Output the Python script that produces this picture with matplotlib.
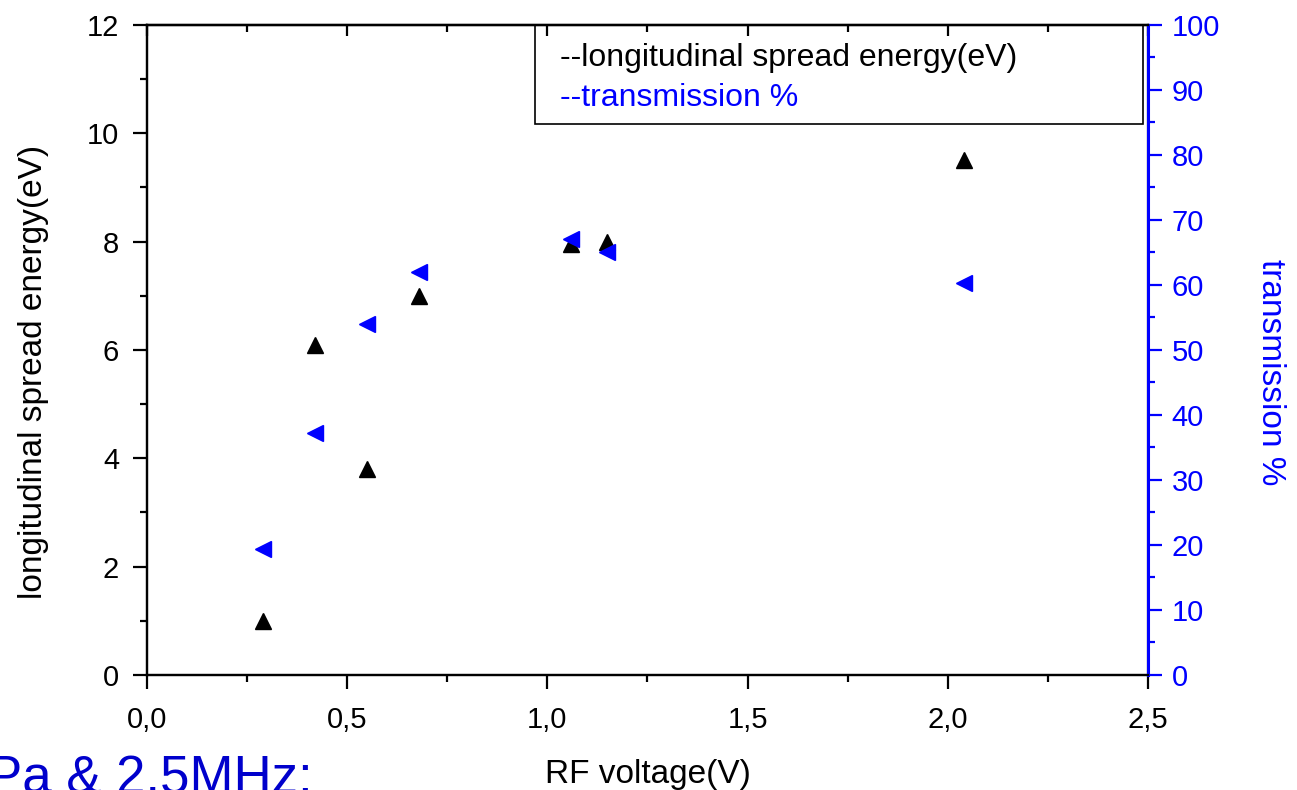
import matplotlib.pyplot as plt
from matplotlib.patches import Rectangle
from matplotlib.ticker import MultipleLocator, FuncFormatter

plt.rcParams['font.family'] = ['Liberation Sans', 'DejaVu Sans']

# RF voltage (V)
rf_voltage = [0.29, 0.42, 0.55, 0.68, 1.06, 1.15, 2.04]
# longitudinal spread energy (eV)
spread_energy = [1.0, 6.1, 3.8, 7.0, 7.95, 8.0, 9.5]
# transmission (%)
transmission = [19.4, 37.2, 54.0, 62.0, 67.0, 65.0, 60.3]

fig = plt.figure(figsize=(12.97, 7.90), dpi=100)
ax1 = fig.add_axes([0.1133, 0.1456, 0.7718, 0.8228])
ax2 = ax1.twinx()

ax1.plot(rf_voltage, spread_energy, linestyle='none', marker='^', color='black',
         markersize=12, clip_on=False)
ax2.plot(rf_voltage, transmission, linestyle='none', marker='<', color='blue',
         markersize=12, clip_on=False)

comma = FuncFormatter(lambda v, p: ('%.1f' % v).replace('.', ','))

ax1.set_xlim(0, 2.5)
ax1.set_ylim(0, 12)
ax2.set_ylim(0, 100)

ax1.xaxis.set_major_locator(MultipleLocator(0.5))
ax1.xaxis.set_minor_locator(MultipleLocator(0.25))
ax1.xaxis.set_major_formatter(comma)
ax1.yaxis.set_major_locator(MultipleLocator(2))
ax1.yaxis.set_minor_locator(MultipleLocator(1))
ax2.yaxis.set_major_locator(MultipleLocator(10))
ax2.yaxis.set_minor_locator(MultipleLocator(5))

for sp in ax1.spines.values():
    sp.set_linewidth(1.6)
for sp in ax2.spines.values():
    sp.set_linewidth(1.6)
ax2.spines['right'].set_color('blue')
ax2.spines['right'].set_linewidth(2.2)

ax1.tick_params(axis='y', which='major', direction='out', length=10, width=1.6,
                labelsize=21, pad=10)
ax1.tick_params(axis='x', which='major', direction='out', length=10, width=1.6,
                labelsize=21, pad=12)
ax1.tick_params(which='minor', direction='out', length=5, width=1.6)
ax2.tick_params(which='major', direction='out', length=10, width=1.6,
                labelsize=21, colors='blue', pad=7)
ax2.tick_params(which='minor', direction='out', length=5, width=1.6, colors='blue')

top = ax1.secondary_xaxis('top')
top.xaxis.set_major_locator(MultipleLocator(0.5))
top.xaxis.set_minor_locator(MultipleLocator(0.25))
top.tick_params(which='major', direction='in', length=8, width=1.6,
                labeltop=False, labelbottom=False)
top.tick_params(which='minor', direction='in', length=5, width=1.6)
top.spines['top'].set_linewidth(1.6)

ax1.set_xlabel('RF voltage(V)', fontsize=24, labelpad=18)
ax1.set_ylabel('longitudinal spread energy(eV)', fontsize=24)
ax1.yaxis.set_label_coords(-0.098, 0.466)
ax2.set_ylabel('transmission %', fontsize=24, color='blue', rotation=-90,
               va='center')
ax2.yaxis.set_label_coords(1.122, 0.466)

# legend-style box with text only
ax1.add_patch(Rectangle((0.3876, 0.8477), 0.6074, 0.1523, transform=ax1.transAxes,
                        fill=False, edgecolor='black', linewidth=1.2, zorder=5,
                        clip_on=False))
ax1.text(0.4126, 0.937, '--longitudinal spread energy(eV)', transform=ax1.transAxes,
         fontsize=23, color='black', va='baseline')
ax1.text(0.4126, 0.876, '--transmission %', transform=ax1.transAxes,
         fontsize=23, color='blue', va='baseline')

fig.text(-0.01, -0.004, 'Pa & 2.5MHz:', fontsize=38, color='#0000cc', va='baseline')

fig.savefig('out.png', dpi=100)
